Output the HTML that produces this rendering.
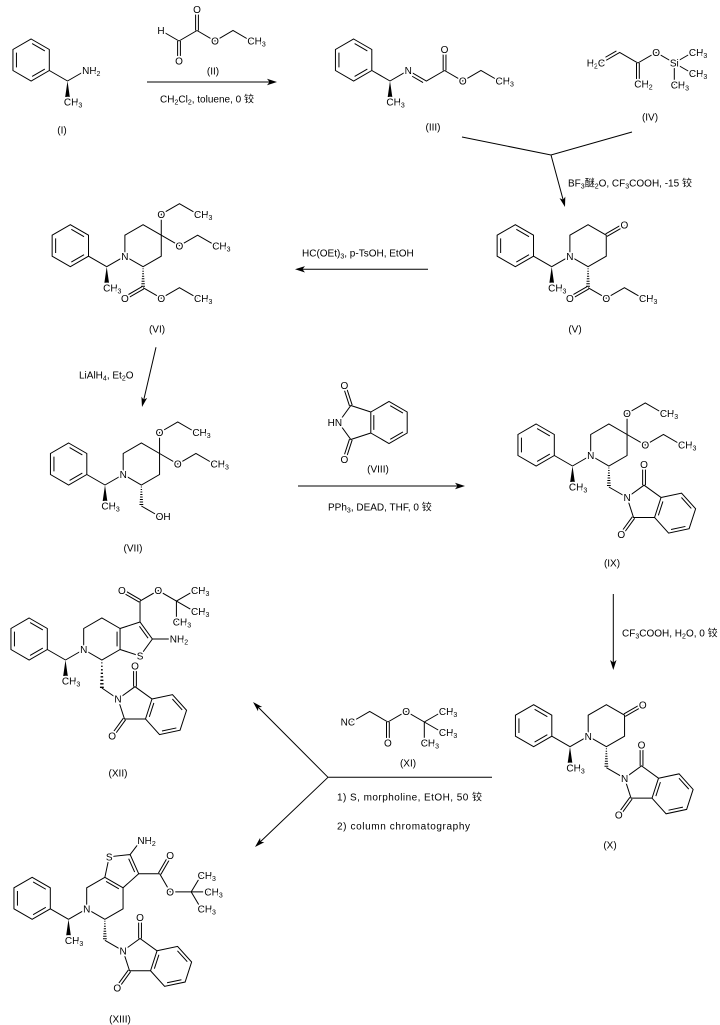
<!DOCTYPE html>
<html><head><meta charset="utf-8">
<style>
html,body{margin:0;padding:0;background:#fff;}
svg{display:block;}
svg text{font-family:"Liberation Sans","Noto Sans CJK SC",sans-serif;font-size:10px;fill:#000;}
.lb{paint-order:stroke;stroke:#fff;stroke-width:3.5px;stroke-linejoin:round;}
.s{font-size:7px;}
.m{text-anchor:middle;}
.ln{fill:none;stroke:#000;stroke-width:1;}
</style></head>
<body>
<svg width="720" height="1025" viewBox="0 0 720 1025" xmlns="http://www.w3.org/2000/svg">
<rect width="720" height="1025" fill="#fff"/>
<defs>
<g id="ph">
<polygon class="ln" points="-36.37,-42 -18.19,-31.5 -18.19,-10.5 -36.37,0 -54.56,-10.5 -54.56,-31.5"/>
<path class="ln" d="M-35.39,-37.4L-22.66,-30.05M-22.67,-11.96L-35.4,-4.61M-51.06,-13.65V-28.35M-18.19,-10.5L0,0"/>
<polygon points="0,0 -2.3,16 2.3,16" fill="#000"/>
</g>
<path id="pip" class="ln" d="M0,0L18.19,-10.5L18.19,-31.5L36.37,-42L54.56,-31.5L54.56,-10.5L36.37,0L18.19,-10.5"/>
<path id="hash" class="ln" d="M-0.5,2h1M-0.7,4.5h1.4M-0.9,7h1.8M-1.1,9.5h2.2M-1.3,12h2.6M-1.5,14.5h3M-1.7,17h3.4M-1.9,19.5h3.8"/>
<path id="est" class="ln" d="M0.7,1.21L-17.49,11.71M-0.7,-1.21L-18.89,9.29M0,0L18.19,10.5L36.37,0L54.56,10.5"/>
<path id="oet2" class="ln" d="M0,0V-21L18.19,-31.5L36.37,-21M0,0L18.19,10.5L36.37,0L54.56,10.5"/>
<path id="ket" class="ln" d="M0.7,1.21L18.89,-9.29M-0.7,-1.21L17.49,-11.71"/>
<path id="pht" class="ln" d="M0,0L16.98,-12.34L33.97,0L27.48,19.97L6.48,19.97Z M15.58,-12.34V-33.35M18.38,-12.34V-33.35 M7.61,20.79L-4.71,37.75 M5.35,19.15L-6.97,36.11 M33.97,0L54.5,-4.37L68.56,11.24L62.07,31.21L41.54,35.58L27.48,19.97 M35.85,3.93L31.3,17.9 M54.38,-0.02L64.22,10.91 M58.37,28.94L44,31.99"/>
</defs>

<!-- Arrows -->
<path class="ln" d="M147,82H275 M462,137L551,155L632,132 M551,155L564,203 M428,269.3H298 M156,347.3L143,403 M298,486H462 M613.3,594V667 M492,777.3H328 M328,777.3L256,705 M328,777.3L258,844"/>
<polygon points="277,82 267,78.8 269.5,82 267,85.2"/>
<polygon points="565,207 565.3,196.6 563.1,199.8 559.5,198.1"/>
<polygon points="295,269.3 305,266.1 302.5,269.3 305,272.5"/>
<polygon points="142,407 147.2,397.9 143.7,399.7 141.4,396.6"/>
<polygon points="465,486 455,482.8 457.5,486 455,489.2"/>
<polygon points="613.3,670 610.1,660 613.3,662.5 616.5,660"/>
<polygon points="253,702 262.2,707 258.3,707.3 258,711.2"/>
<polygon points="255,847 264.3,842.3 260.4,841.8 260.1,837.9"/>

<!-- Reagent texts -->
<text x="160" y="102.5">CH<tspan class="s" dy="2">2</tspan><tspan dy="-2">Cl</tspan><tspan class="s" dy="2">2</tspan><tspan dy="-2">, toluene, 0 铰</tspan></text>
<text x="568" y="186.5">BF<tspan class="s" dy="2">3</tspan><tspan dy="-2">醚</tspan><tspan class="s" dy="2">2</tspan><tspan dy="-2">O, CF</tspan><tspan class="s" dy="2">3</tspan><tspan dy="-2">COOH, -15 铰</tspan></text>
<text x="302" y="256.5">HC(OEt)<tspan class="s" dy="2">3</tspan><tspan dy="-2">, p-TsOH, EtOH</tspan></text>
<text x="79" y="378.5">LiAlH<tspan class="s" dy="2">4</tspan><tspan dy="-2">, Et</tspan><tspan class="s" dy="2">2</tspan><tspan dy="-2">O</tspan></text>
<text x="328" y="510.5">PPh<tspan class="s" dy="2">3</tspan><tspan dy="-2">, DEAD, THF, 0 铰</tspan></text>
<text x="622" y="636.5">CF<tspan class="s" dy="2">3</tspan><tspan dy="-2">COOH, H</tspan><tspan class="s" dy="2">2</tspan><tspan dy="-2">O, 0 铰</tspan></text>
<text x="337" y="800.5" textLength="145" lengthAdjust="spacing">1) S, morpholine, EtOH, 50 铰</text>
<text x="337" y="829.5" textLength="133" lengthAdjust="spacing">2) column chromatography</text>

<!-- Compound labels -->
<text class="m" x="62" y="133.5">(I)</text>
<text class="m" x="213" y="74.5">(II)</text>
<text class="m" x="433" y="130.5">(III)</text>
<text class="m" x="650" y="120.5">(IV)</text>
<text class="m" x="575" y="332.5">(V)</text>
<text class="m" x="157" y="332.5">(VI)</text>
<text class="m" x="133" y="551.5">(VII)</text>
<text class="m" x="378" y="472.5">(VIII)</text>
<text class="m" x="612" y="566.5">(IX)</text>
<text class="m" x="610" y="848.5">(X)</text>
<text class="m" x="408" y="766.5">(XI)</text>
<text class="m" x="118" y="776.5">(XII)</text>
<text class="m" x="120" y="1022.5">(XIII)</text>

<!-- I -->
<g transform="translate(67.5,81)">
<use href="#ph"/>
<path class="ln" d="M0,0L18.19,-10.5"/>
<text class="lb" x="14.6" y="-6.9">NH<tspan class="s" dy="2">2</tspan></text>
<text class="lb" x="-3.6" y="24.6">CH<tspan class="s" dy="2">3</tspan></text>
</g>

<!-- II -->
<path class="ln" d="M161,30.5L179,41 M177.6,41V61 M180.4,41V61 M179,41L197,30.5 M195.6,30.5V9.5 M198.4,30.5V9.5 M197,30.5L215,41L233,30.5L251,41"/>
<text class="lb m" x="161" y="34.1">H</text>
<text class="lb m" x="179" y="64.6">O</text>
<text class="lb m" x="197" y="13.1">O</text>
<text class="lb m" x="215" y="44.6">O</text>
<text class="lb" x="247.4" y="44.6">CH<tspan class="s" dy="2">3</tspan></text>

<!-- III -->
<g transform="translate(390,81)">
<use href="#ph"/>
<path class="ln" d="M0,0L18.19,-10.5L36.37,0L54.56,-10.5 M22.15,-4.75L33.06,1.55 M53.16,-10.5V-31.5 M55.96,-10.5V-31.5 M54.56,-10.5L72.75,0L90.94,-10.5L109.12,0"/>
<text class="lb m" x="18.19" y="-6.9">N</text>
<text class="lb m" x="54.56" y="-27.9">O</text>
<text class="lb m" x="72.75" y="3.6">O</text>
<text class="lb" x="105.5" y="3.6">CH<tspan class="s" dy="2">3</tspan></text>
<text class="lb" x="-3.6" y="24.6">CH<tspan class="s" dy="2">3</tspan></text>
</g>

<!-- IV -->
<path class="ln" d="M601.5,63L619.7,52.5L637.9,63 M605.46,57.25L616.4,50.95 M636.5,63V84 M639.3,63V84 M637.9,63L656.1,52.5L674.3,63 M674.3,63L692.5,52.5 M674.3,63L692.5,73.5 M674.3,63V85"/>
<text class="lb" x="605.1" y="66.6" text-anchor="end">H<tspan class="s" dy="2">2</tspan><tspan dy="-2">C</tspan></text>
<text class="lb m" x="656.1" y="56.1">O</text>
<text class="lb m" x="674.3" y="66.6">Si</text>
<text class="lb" x="688.9" y="56.1">CH<tspan class="s" dy="2">3</tspan></text>
<text class="lb" x="688.9" y="77.1">CH<tspan class="s" dy="2">3</tspan></text>
<text class="lb" x="670.7" y="88.6">CH<tspan class="s" dy="2">3</tspan></text>
<text class="lb" x="634.3" y="87.6">CH<tspan class="s" dy="2">2</tspan></text>

<!-- V -->
<g transform="translate(551.7,266.7)">
<use href="#ph"/><use href="#pip"/>
<use href="#hash" x="36.37" y="0"/>
<use href="#ket" x="54.56" y="-31.5"/>
<use href="#est" x="36.37" y="21"/>
<text class="lb m" x="18.19" y="-6.9">N</text>
<text class="lb m" x="72.75" y="-38.4">O</text>
<text class="lb m" x="18.19" y="35.1">O</text>
<text class="lb m" x="54.56" y="35.1">O</text>
<text class="lb" x="87.34" y="35.1">CH<tspan class="s" dy="2">3</tspan></text>
<text class="lb" x="-3.6" y="24.6">CH<tspan class="s" dy="2">3</tspan></text>
</g>

<!-- VI -->
<g transform="translate(106.7,266.7)">
<use href="#ph"/><use href="#pip"/>
<use href="#hash" x="36.37" y="0"/>
<use href="#oet2" x="54.56" y="-31.5"/>
<use href="#est" x="36.37" y="21"/>
<text class="lb m" x="18.19" y="-6.9">N</text>
<text class="lb m" x="54.56" y="-48.9">O</text>
<text class="lb" x="87.33" y="-48.9">CH<tspan class="s" dy="2">3</tspan></text>
<text class="lb m" x="72.75" y="-17.4">O</text>
<text class="lb" x="105.52" y="-17.4">CH<tspan class="s" dy="2">3</tspan></text>
<text class="lb m" x="18.19" y="35.1">O</text>
<text class="lb m" x="54.56" y="35.1">O</text>
<text class="lb" x="87.34" y="35.1">CH<tspan class="s" dy="2">3</tspan></text>
<text class="lb" x="-3.6" y="24.6">CH<tspan class="s" dy="2">3</tspan></text>
</g>

<!-- VII -->
<g transform="translate(105,485)">
<use href="#ph"/><use href="#pip"/>
<use href="#hash" x="36.37" y="0"/>
<use href="#oet2" x="54.56" y="-31.5"/>
<path class="ln" d="M36.37,21L54.56,31.5"/>
<text class="lb m" x="18.19" y="-6.9">N</text>
<text class="lb m" x="54.56" y="-48.9">O</text>
<text class="lb" x="87.33" y="-48.9">CH<tspan class="s" dy="2">3</tspan></text>
<text class="lb m" x="72.75" y="-17.4">O</text>
<text class="lb" x="105.52" y="-17.4">CH<tspan class="s" dy="2">3</tspan></text>
<text class="lb" x="50.66" y="35.1">OH</text>
<text class="lb" x="-3.6" y="24.6">CH<tspan class="s" dy="2">3</tspan></text>
</g>

<!-- VIII -->
<g transform="translate(338.5,422.5)">
<path class="ln" d="M0,0L12.34,-16.99L32.31,-10.5V10.5L12.34,16.99Z M13.67,-17.42L7.18,-37.39 M11.01,-16.56L4.52,-36.53 M13.67,17.42L7.18,37.39 M11.01,16.56L4.52,36.53 M32.31,-10.5L50.5,-21L68.69,-10.5V10.5L50.5,21L32.31,10.5 M35.31,-7.35V7.35 M51.73,-16.83L64.46,-9.48 M64.46,9.48L51.73,16.83"/>
<text class="lb" x="3.6" y="3.6" text-anchor="end">HN</text>
<text class="lb m" x="5.85" y="-33.36">O</text>
<text class="lb m" x="5.85" y="40.56">O</text>
</g>

<!-- IX -->
<g transform="translate(572.5,466)">
<use href="#ph"/><use href="#pip"/>
<use href="#hash" x="36.37" y="0"/>
<use href="#oet2" x="54.56" y="-31.5"/>
<path class="ln" d="M36.37,21L54.56,31.5"/>
<use href="#pht" x="54.56" y="31.5"/>
<text class="lb m" x="18.19" y="-6.9">N</text>
<text class="lb m" x="54.56" y="-48.9">O</text>
<text class="lb" x="87.33" y="-48.9">CH<tspan class="s" dy="2">3</tspan></text>
<text class="lb m" x="72.75" y="-17.4">O</text>
<text class="lb" x="105.52" y="-17.4">CH<tspan class="s" dy="2">3</tspan></text>
<text class="lb" x="-3.6" y="24.6">CH<tspan class="s" dy="2">3</tspan></text>
<text class="lb m" x="54.56" y="35.1">N</text>
<text class="lb m" x="71.54" y="1.75">O</text>
<text class="lb m" x="48.72" y="72.03">O</text>
</g>

<!-- X -->
<g transform="translate(570,746.7)">
<use href="#ph"/><use href="#pip"/>
<use href="#hash" x="36.37" y="0"/>
<use href="#ket" x="54.56" y="-31.5"/>
<path class="ln" d="M36.37,21L54.56,31.5"/>
<use href="#pht" x="54.56" y="31.5"/>
<text class="lb m" x="18.19" y="-6.9">N</text>
<text class="lb m" x="72.75" y="-38.4">O</text>
<text class="lb" x="-3.6" y="24.6">CH<tspan class="s" dy="2">3</tspan></text>
<text class="lb m" x="54.56" y="35.1">N</text>
<text class="lb m" x="71.54" y="1.75">O</text>
<text class="lb m" x="48.72" y="72.03">O</text>
</g>

<!-- XI -->
<path class="ln" d="M351.5,722L369.7,711.5L387.9,722 M386.5,722V743 M389.3,722V743 M387.9,722L406.1,711.5L424.3,722 M424.3,722L442.5,711.5 M424.3,722L442.5,732.5 M424.3,722V743"/>
<text class="lb" x="355.1" y="725.6" text-anchor="end">NC</text>
<text class="lb m" x="387.9" y="746.6">O</text>
<text class="lb m" x="406.1" y="715.1">O</text>
<text class="lb" x="438.9" y="715.1">CH<tspan class="s" dy="2">3</tspan></text>
<text class="lb" x="438.9" y="736.1">CH<tspan class="s" dy="2">3</tspan></text>
<text class="lb" x="420.7" y="746.6">CH<tspan class="s" dy="2">3</tspan></text>

<!-- XII -->
<g transform="translate(65.5,660)">
<use href="#ph"/><use href="#pip"/>
<path class="ln" d="M51.56,-28.35V-13.65 M54.56,-31.5L74.53,-37.99L86.87,-21L74.53,-4.01L54.56,-10.5 M73.95,-33.68L82.59,-21.79 M86.87,-21H107.87 M74.53,-37.99V-58.99 M75.23,-60.2L57.04,-70.7 M73.83,-57.78L55.64,-68.28 M74.53,-58.99L92.72,-69.49L110.91,-58.99 M110.91,-58.99L129.1,-69.49 M110.91,-58.99L129.1,-48.49 M110.91,-58.99V-37.99 M36.37,28L52.5,39"/>
<use href="#hash" transform="translate(36.37,0) scale(1,1.4)"/>
<use href="#pht" x="52.5" y="39"/>
<text class="lb m" x="18.19" y="-6.9">N</text>
<text class="lb m" x="74.53" y="-0.41">S</text>
<text class="lb" x="104.27" y="-17.4">NH<tspan class="s" dy="2">2</tspan></text>
<text class="lb m" x="56.34" y="-65.89">O</text>
<text class="lb m" x="92.72" y="-65.89">O</text>
<text class="lb" x="125.5" y="-65.89">CH<tspan class="s" dy="2">3</tspan></text>
<text class="lb" x="125.5" y="-44.89">CH<tspan class="s" dy="2">3</tspan></text>
<text class="lb" x="107.31" y="-34.39">CH<tspan class="s" dy="2">3</tspan></text>
<text class="lb" x="-3.6" y="24.6">CH<tspan class="s" dy="2">3</tspan></text>
<text class="lb m" x="52.5" y="42.6">N</text>
<text class="lb m" x="69.48" y="9.25">O</text>
<text class="lb m" x="46.66" y="79.53">O</text>
</g>

<!-- XIII -->
<g transform="translate(68.5,919.3)">
<use href="#ph"/><use href="#pip"/>
<path class="ln" d="M37.6,-37.83L50.33,-30.48 M36.37,-42L40.73,-62.51L61.63,-64.73L70.18,-45.58L54.56,-31.5 M60.17,-60.64L66.16,-47.23 M61.63,-64.73L72.5,-79 M70.18,-45.58H91.18 M92.39,-44.88L102.89,-63.07 M89.97,-46.28L100.47,-64.47 M91.18,-45.58L101.68,-27.39H122.68 M122.68,-27.39L132.7,-44 M122.68,-27.39H139.5 M122.68,-27.39L132.7,-10.5 M36.37,21L54.56,31.5"/>
<use href="#hash" x="36.37" y="0"/>
<use href="#pht" x="54.56" y="31.5"/>
<text class="lb m" x="18.19" y="-6.9">N</text>
<text class="lb m" x="40.73" y="-58.91">S</text>
<text class="lb" x="68.9" y="-75.4">NH<tspan class="s" dy="2">2</tspan></text>
<text class="lb m" x="101.68" y="-60.17">O</text>
<text class="lb m" x="101.68" y="-23.79">O</text>
<text class="lb" x="129.1" y="-40.4">CH<tspan class="s" dy="2">3</tspan></text>
<text class="lb" x="135.9" y="-23.79">CH<tspan class="s" dy="2">3</tspan></text>
<text class="lb" x="129.1" y="-6.9">CH<tspan class="s" dy="2">3</tspan></text>
<text class="lb" x="-3.6" y="24.6">CH<tspan class="s" dy="2">3</tspan></text>
<text class="lb m" x="54.56" y="35.1">N</text>
<text class="lb m" x="71.54" y="1.75">O</text>
<text class="lb m" x="48.72" y="72.03">O</text>
</g>
</svg>
</body></html>
